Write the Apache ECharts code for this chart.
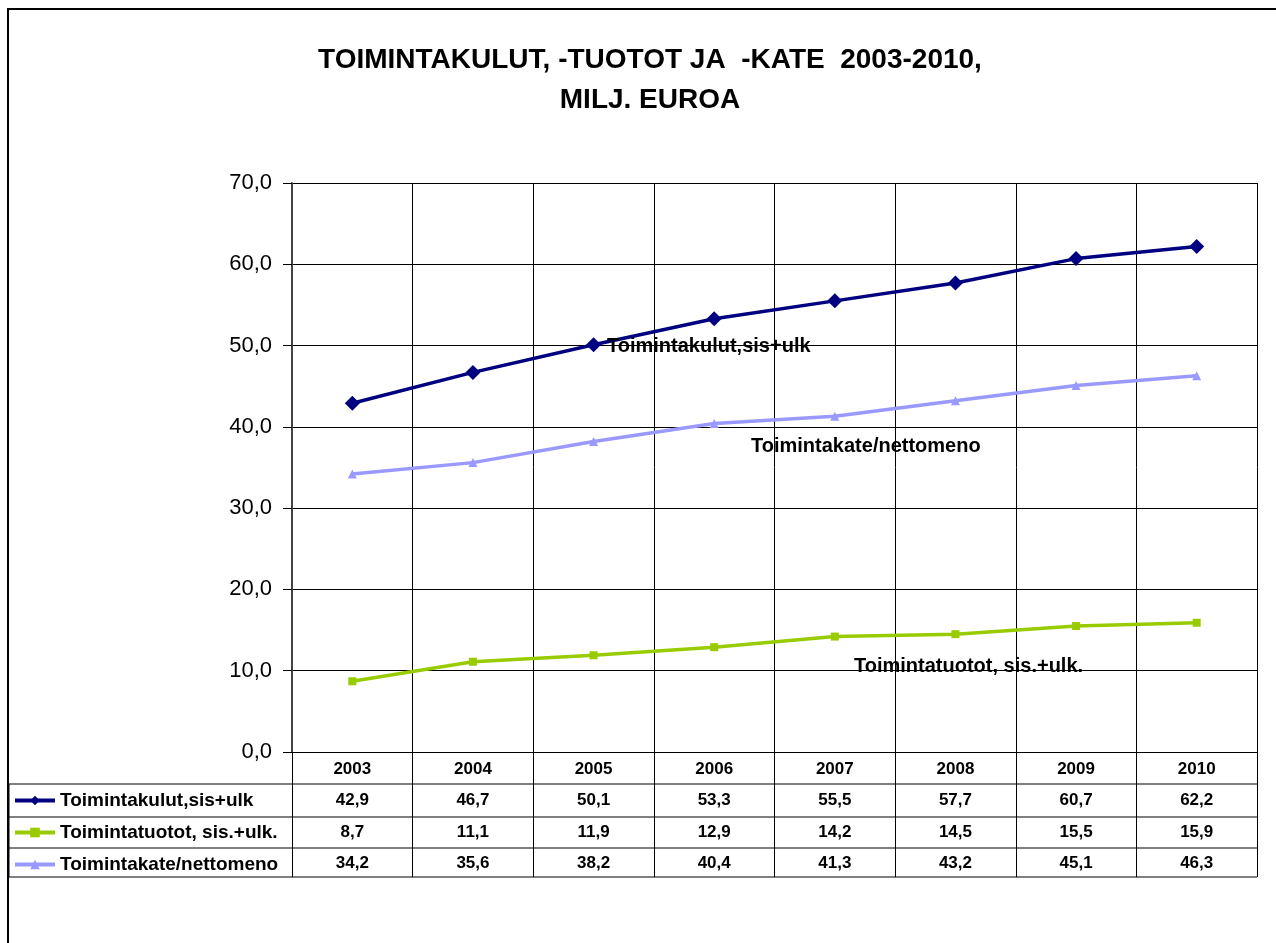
<!DOCTYPE html>
<html>
<head>
<meta charset="utf-8">
<script src="https://cdn.jsdelivr.net/npm/echarts@6/dist/echarts.min.js"></script>
<style>
  html, body { margin: 0; padding: 0; background: #fff; }
  #main { width: 1276px; height: 943px; }
</style>
</head>
<body>
<div id="main"></div>
<script>
const years = ['2003', '2004', '2005', '2006', '2007', '2008', '2009', '2010'];
const seriesNames = ['Toimintakulut,sis+ulk', 'Toimintatuotot, sis.+ulk.', 'Toimintakate/nettomeno'];
const kulut = [42.9, 46.7, 50.1, 53.3, 55.5, 57.7, 60.7, 62.2];
const tuotot = [8.7, 11.1, 11.9, 12.9, 14.2, 14.5, 15.5, 15.9];
const kate = [34.2, 35.6, 38.2, 40.4, 41.3, 43.2, 45.1, 46.3];

const FONT = '"Liberation Sans", Arial, sans-serif';
const fmt = v => v.toFixed(1).replace('.', ',');

const chart = echarts.init(document.getElementById('main'));

const option = {
    animation: false,
    backgroundColor: '#fff',
    textStyle: { fontFamily: FONT },
    title: {
        text: 'TOIMINTAKULUT, -TUOTOT JA  -KATE  2003-2010,\nMILJ. EUROA',
        left: 645,
        top: 35,
        textAlign: 'center',
        textStyle: {
            fontFamily: FONT,
            fontSize: 28,
            fontWeight: 'bold',
            color: '#000',
            lineHeight: 40
        }
    },
    grid: {
        left: 292,
        top: 183,
        width: 965,
        height: 569
    },
    legend: {
        orient: 'vertical',
        left: 13,
        top: 791,
        padding: 0,
        itemWidth: 40,
        itemHeight: 12,
        itemGap: 13,
        itemTextGap: 7,
        lineStyle: { width: 4 },
        textStyle: {
            fontFamily: FONT,
            fontSize: 19,
            fontWeight: 'bold',
            color: '#000'
        },
        data: seriesNames
    },
    xAxis: {
        type: 'category',
        data: years,
        boundaryGap: true,
        axisLine: { lineStyle: { color: '#000', width: 1 } },
        axisTick: { show: true, length: 125, lineStyle: { color: '#000', width: 1 } },
        axisLabel: {
            margin: 9,
            fontFamily: FONT,
            fontSize: 17,
            fontWeight: 'bold',
            color: '#000'
        },
        splitLine: { show: true, lineStyle: { color: '#000', width: 1 } }
    },
    yAxis: {
        type: 'value',
        min: 0,
        max: 70,
        interval: 10,
        axisLine: { show: true, lineStyle: { color: '#444', width: 2 } },
        axisTick: { show: true, length: 9, lineStyle: { color: '#000' } },
        axisLabel: {
            margin: 20,
            fontFamily: FONT,
            fontSize: 22,
            color: '#000',
            formatter: v => fmt(v)
        },
        splitLine: { show: true, lineStyle: { color: '#000', width: 1 } }
    },
    series: [
        {
            name: seriesNames[0],
            type: 'line',
            data: kulut,
            symbol: 'diamond',
            symbolSize: 15,
            color: '#000080',
            lineStyle: { width: 3.5, color: '#000080' },
            itemStyle: { color: '#000080' }
        },
        {
            name: seriesNames[1],
            type: 'line',
            data: tuotot,
            symbol: 'rect',
            symbolSize: 8,
            color: '#99CC00',
            lineStyle: { width: 3.5, color: '#99CC00' },
            itemStyle: { color: '#99CC00' }
        },
        {
            name: seriesNames[2],
            type: 'line',
            data: kate,
            symbol: 'triangle',
            symbolSize: 9,
            color: '#9999FF',
            lineStyle: { width: 3.5, color: '#9999FF' },
            itemStyle: { color: '#9999FF' }
        }
    ]
};
chart.setOption(option);

// data table under the plot
const tableRows = [kulut, tuotot, kate];
const rowLines = [784, 817, 848, 877];
const rowCenters = [800, 832, 863];
const tableLeft = 9;
const tableRight = 1257;

const graphics = [];
// outer frame
graphics.push({
    type: 'rect',
    shape: { x: 8, y: 9, width: 1400, height: 1100 },
    style: { fill: 'none', stroke: '#000', lineWidth: 2 },
    silent: true
});
rowLines.forEach(y => {
    graphics.push({
        type: 'line',
        shape: { x1: tableLeft, y1: y, x2: tableRight, y2: y },
        style: { stroke: '#000', lineWidth: 1 },
        silent: true
    });
});
graphics.push({
    type: 'line',
    shape: { x1: tableLeft, y1: rowLines[0], x2: tableLeft, y2: rowLines[3] },
    style: { stroke: '#000', lineWidth: 1 },
    silent: true
});
tableRows.forEach((row, r) => {
    row.forEach((v, i) => {
        const x = chart.convertToPixel({ xAxisIndex: 0 }, years[i]);
        graphics.push({
            type: 'text',
            x: x,
            y: rowCenters[r],
            style: {
                text: fmt(v),
                fontFamily: FONT,
                fontSize: 17,
                fontWeight: 'bold',
                fill: '#000',
                align: 'center',
                verticalAlign: 'middle'
            },
            silent: true
        });
    });
});

// series annotations inside the plot
const notes = [
    { text: seriesNames[0], x: 607, y: 346 },
    { text: seriesNames[2], x: 751, y: 446 },
    { text: seriesNames[1], x: 854, y: 666 }
];
notes.forEach(n => {
    graphics.push({
        type: 'text',
        x: n.x,
        y: n.y,
        z: 10,
        style: {
            text: n.text,
            fontFamily: FONT,
            fontSize: 20,
            fontWeight: 'bold',
            fill: '#000',
            align: 'left',
            verticalAlign: 'middle'
        },
        silent: true
    });
});

chart.setOption({ graphic: graphics });
</script>
</body>
</html>
